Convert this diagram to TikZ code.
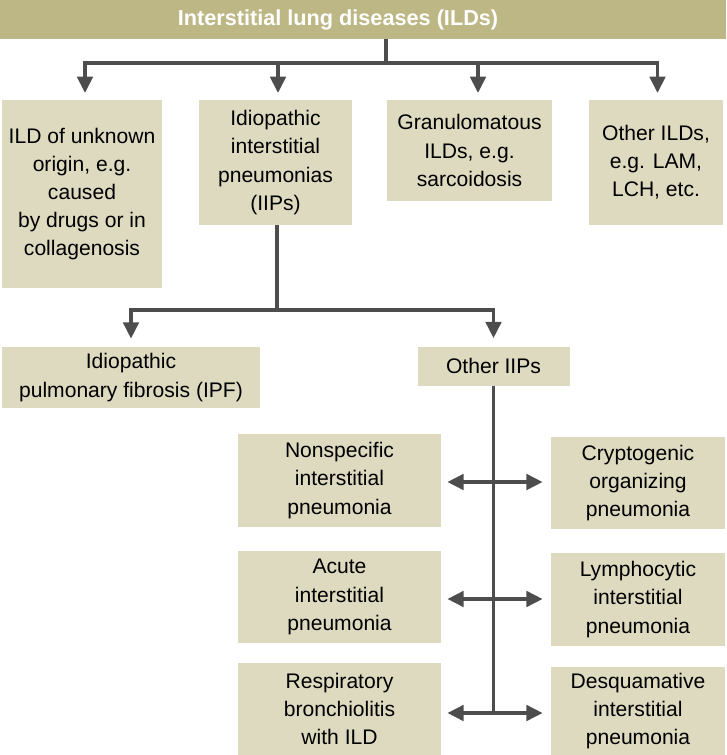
\documentclass[tikz,border=0pt]{standalone}
\usepackage{fontspec}
\setmainfont{Liberation Sans}
\usetikzlibrary{positioning,arrows.meta}
\definecolor{bannerfill}{HTML}{BCB784}
\definecolor{boxfill}{HTML}{DEDAC0}
\definecolor{linegray}{HTML}{4D4D4D}

\begin{document}
\begin{tikzpicture}[x=0.03cm, y=-0.03cm,
        bannernode/.style={rectangle, fill=bannerfill, text=white, inner sep=0pt, font=\fontsize{18.5}{22}\selectfont\bfseries},
        boxnode/.style={rectangle, fill=boxfill, inner sep=0pt, align=center, font=\fontsize{18}{24}\selectfont},
        plainline/.style={draw=linegray, line width=3.4pt},
        arrowline/.style={plainline, -{Triangle[width=13pt,length=14pt]}},
        dblarrow/.style={plainline, {Triangle[width=13pt,length=14pt]}-{Triangle[width=13pt,length=14pt]}, shorten <=0.18cm, shorten >=0.24cm}]
        \useasboundingbox (0,0) rectangle (726,755);

        \node[bannernode, minimum width=21.78cm, minimum height=1.17cm] (0) at (363,19.5) {\hspace*{-1.5cm}Interstitial lung diseases (ILDs)};

        \node[boxnode, minimum width=4.8cm, minimum height=5.64cm] (1) at (82,194) {ILD of unknown\\origin, e.g.\\caused\\by drugs or in\\collagenosis};
        \node[boxnode, minimum width=4.59cm, minimum height=3.75cm] (2) at (275.5,162.5) {Idiopathic\\interstitial\\pneumonias\\(IIPs)};
        \node[boxnode, minimum width=4.95cm, minimum height=3.03cm] (3) at (469.5,150.5) {Granulomatous\\ILDs, e.g.\\sarcoidosis};
        \node[boxnode, minimum width=4.02cm, minimum height=3.75cm] (4) at (656,162.5) {Other ILDs,\\e.g. LAM,\\LCH, etc.};

        \node[boxnode, minimum width=7.74cm, minimum height=1.83cm] (5) at (131,377.5) {Idiopathic\\pulmonary fibrosis (IPF)};
        \node[boxnode, minimum width=4.56cm, minimum height=1.17cm] (6) at (493.5,366) {Other IIPs};

        \node[boxnode, minimum width=6.09cm, minimum height=2.79cm] (7) at (339.5,480.5) {Nonspecific\\interstitial\\pneumonia};
        \node[boxnode, minimum width=5.22cm, minimum height=2.76cm] (8) at (638,483) {Cryptogenic\\organizing\\pneumonia};
        \node[boxnode, minimum width=6.09cm, minimum height=2.76cm] (9) at (339.5,597) {Acute\\interstitial\\pneumonia};
        \node[boxnode, minimum width=5.22cm, minimum height=2.79cm] (10) at (638,599.5) {Lymphocytic\\interstitial\\pneumonia};
        \node[boxnode, minimum width=6.09cm, minimum height=2.76cm] (11) at (339.5,709) {Respiratory\\bronchiolitis\\with ILD};
        \node[boxnode, minimum width=5.22cm, minimum height=2.64cm] (12) at (638,711) {Desquamative\\interstitial\\pneumonia};

        % first level
        \coordinate (t) at (386,63);
        \draw[plainline] (0.south -| t) -- (t);
        \foreach \n/\dx in {1/3,2/2.5,3/8.5,4/1.5}
            \draw[arrowline, shorten >=0.2cm] (t) -| ([xshift=\dx*0.03cm]\n.north);

        % second level
        \coordinate (s) at (277,310);
        \draw[plainline] (2.south -| s) -- (s);
        \foreach \n in {5,6}
            \draw[arrowline, shorten >=0.24cm] (s) -| (\n.north);

        % other IIPs
        \coordinate (e) at (493.5,713);
        \draw[plainline] (6.south) -- (e);
        \foreach \a/\b/\y in {7/8/482, 9/10/599, 11/12/713}
            \draw[dblarrow] (\a.east |- 0,\y) -- (\b.west |- 0,\y);

\end{tikzpicture}
\end{document}
